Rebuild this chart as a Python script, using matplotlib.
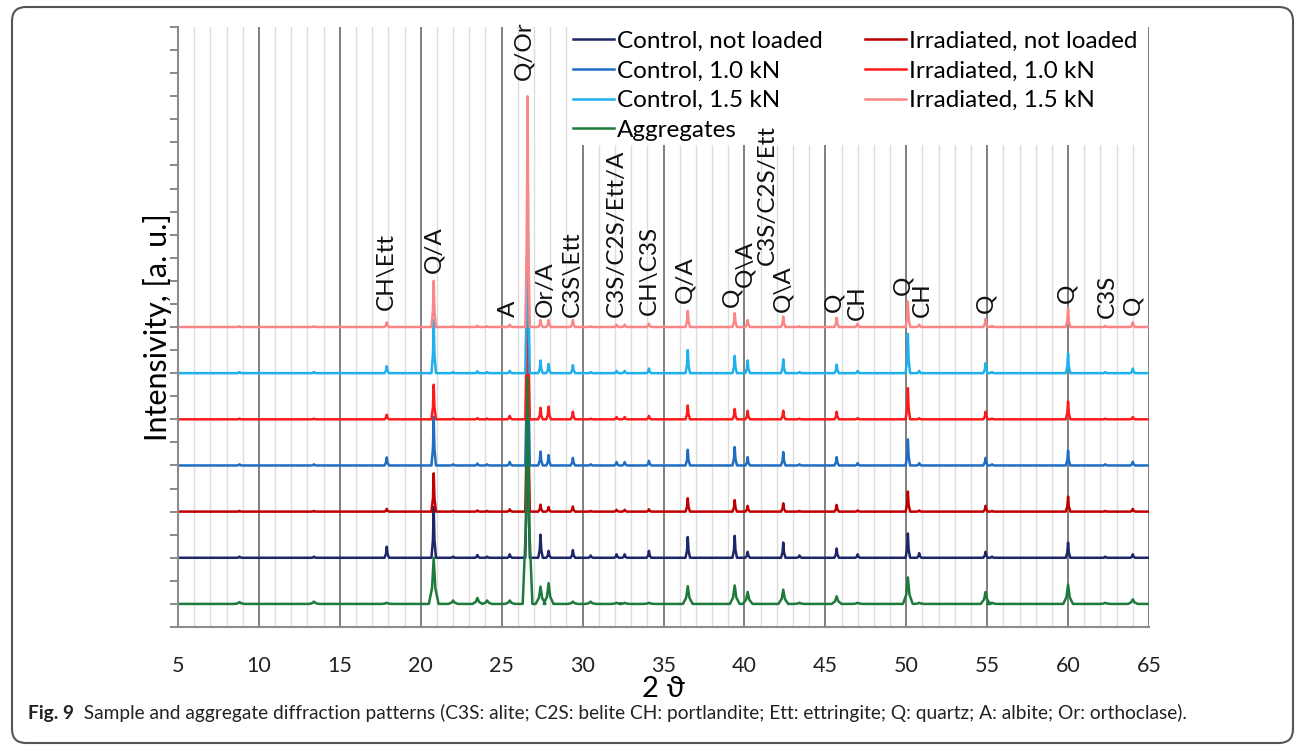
import numpy as np
import matplotlib.pyplot as plt
import matplotlib.transforms as mtransforms
from matplotlib.patches import FancyBboxPatch

plt.rcParams['font.family'] = ['Lato', 'DejaVu Sans']

# peak positions (2 theta) shared by all patterns
peak_pos = [8.8, 13.4, 17.9, 20.8, 22.0, 23.5, 24.1, 25.5, 26.6, 27.4, 27.9, 29.4, 30.5,
            32.1, 32.6, 34.1, 36.5, 39.4, 40.2, 42.4, 43.4, 45.7, 47.0, 50.1, 50.8,
            54.9, 55.3, 60.0, 62.3, 64.0]

# peak heights above each baseline (a. u.)
h_ctrl_nl = [0.05, 0.05, 0.48, 2.2, 0.05, 0.12, 0.05, 0.15, 10.0, 1.0, 0.3, 0.33, 0.1,
             0.15, 0.15, 0.3, 0.9, 0.95, 0.26, 0.66, 0.1, 0.4, 0.15, 1.05, 0.2,
             0.26, 0.05, 0.66, 0.05, 0.15]
h_ctrl_10 = [0.05, 0.05, 0.35, 2.1, 0.05, 0.08, 0.05, 0.15, 10.0, 0.6, 0.45, 0.33, 0.05,
             0.15, 0.15, 0.2, 0.68, 0.8, 0.36, 0.58, 0.05, 0.36, 0.1, 1.13, 0.1,
             0.33, 0.05, 0.65, 0.05, 0.16]
h_ctrl_15 = [0.05, 0.05, 0.3, 2.3, 0.05, 0.08, 0.05, 0.1, 10.0, 0.55, 0.4, 0.35, 0.05,
             0.1, 0.1, 0.2, 1.0, 0.75, 0.55, 0.6, 0.05, 0.37, 0.1, 1.7, 0.1,
             0.43, 0.05, 0.85, 0.05, 0.2]
h_irr_nl = [0.03, 0.03, 0.12, 1.66, 0.03, 0.05, 0.03, 0.1, 10.0, 0.3, 0.2, 0.22, 0.03,
            0.08, 0.08, 0.1, 0.58, 0.5, 0.25, 0.36, 0.03, 0.29, 0.05, 0.87, 0.05,
            0.25, 0.03, 0.65, 0.03, 0.12]
h_irr_10 = [0.03, 0.03, 0.2, 1.5, 0.03, 0.05, 0.03, 0.15, 10.0, 0.5, 0.55, 0.33, 0.03,
            0.1, 0.1, 0.15, 0.6, 0.45, 0.37, 0.37, 0.03, 0.33, 0.05, 1.35, 0.05,
            0.33, 0.03, 0.77, 0.03, 0.1]
h_irr_15 = [0.03, 0.03, 0.2, 2.0, 0.03, 0.05, 0.03, 0.1, 10.0, 0.3, 0.3, 0.3, 0.03,
            0.1, 0.1, 0.15, 0.7, 0.6, 0.3, 0.45, 0.03, 0.4, 0.15, 1.1, 0.1,
            0.35, 0.05, 0.8, 0.05, 0.2]
h_aggr = [0.08, 0.1, 0.05, 2.0, 0.15, 0.26, 0.15, 0.15, 9.8, 0.75, 0.9, 0.1, 0.1,
          0.05, 0.05, 0.05, 0.77, 0.8, 0.52, 0.62, 0.05, 0.33, 0.05, 1.15, 0.05,
          0.52, 0.05, 0.84, 0.05, 0.2]

labels = ['Control, not loaded', 'Control, 1.0 kN', 'Control, 1.5 kN', 'Aggregates',
          'Irradiated, not loaded', 'Irradiated, 1.0 kN', 'Irradiated, 1.5 kN']
heights = [h_ctrl_nl, h_ctrl_10, h_ctrl_15, h_aggr, h_irr_nl, h_irr_10, h_irr_15]
offsets = [3, 7, 11, 1, 5, 9, 13]
colors = ['#1b2768', '#1f6ec4', '#1fb0ee', '#1d7a3a', '#c00000', '#ff1a1a', '#fb8686']
widths = [0.14, 0.14, 0.14, 0.3, 0.14, 0.14, 0.14]
draw_order = [0, 4, 1, 5, 2, 6, 3]

# phase labels
ann_text = ['CH\\Ett', 'Q/A', 'A', 'Q/Or', 'Or/A', 'C3S\\Ett', 'C3S/C2S/Ett/A', 'CH\\C3S',
            'Q/A', 'Q', 'Q\\A', 'C3S/C2S/Ett', 'Q\\A', 'Q', 'CH', 'Q', 'CH', 'Q', 'Q',
            'C3S', 'Q']
ann_x = [17.9, 20.8, 25.4, 26.4, 27.7, 29.4, 32.1, 34.1, 36.3, 39.2, 40.0, 41.4, 42.4,
         45.5, 47.0, 49.8, 51.0, 54.9, 59.9, 62.4, 64.0]
ann_y = [13.73, 15.34, 13.43, 23.7, 13.43, 13.43, 13.43, 13.5, 14.04, 13.86, 14.73, 15.68,
         13.65, 13.65, 13.3, 14.38, 13.43, 13.6, 14.04, 13.39, 13.5]


def pattern(h, base, w):
    xs, ys = [5.0], [base]
    for p, hh in zip(peak_pos, h):
        xs += [p - w, p - w / 3, p, p + w / 3, p + w]
        ys += [base, base + hh * 0.35, base + hh, base + hh * 0.35, base]
    xs.append(65.0)
    ys.append(base)
    return xs, ys


fig = plt.figure(figsize=(12.96, 7.45), dpi=100)
ax = fig.add_axes([178 / 1296, 1 - 627 / 745, 971 / 1296, 600 / 745])

handles = {}
for i in draw_order:
    xs, ys = pattern(heights[i], offsets[i], widths[i])
    ln, = ax.plot(xs, ys, color=colors[i], lw=1.8, label=labels[i])
    handles[i] = ln

ax.set_xlim(5, 65)
ax.set_ylim(0, 26)
ax.set_xticks(np.arange(5, 66, 5))
ax.set_xticks(np.arange(5, 66, 1), minor=True)
ax.set_yticks(np.arange(0, 27, 1))
ax.set_yticklabels([])
ax.grid(which='major', axis='x', color='#7f7f7f', lw=1.4, zorder=0)
ax.grid(which='minor', axis='x', color='#dcdcdc', lw=1.0, zorder=0)
ax.set_axisbelow(True)
ax.tick_params(axis='x', which='both', length=0, pad=21, labelsize=15.5, labelcolor='#222222')
ax.tick_params(axis='y', length=6, width=1.3, color='#7f7f7f')
for s in ['top', 'right']:
    ax.spines[s].set_visible(False)
for s in ['left', 'bottom']:
    ax.spines[s].set_color('#8c8c8c')
    ax.spines[s].set_linewidth(1.5)

ax.set_xlabel('2 \u03d1', fontsize=21, labelpad=0)
ax.set_ylabel('Intensivity, [a. u.]', fontsize=22)
ax.yaxis.set_label_coords(-0.006, 0.5)

for t, x, y in zip(ann_text, ann_x, ann_y):
    ax.text(x, y, t, rotation=90, ha='center', va='bottom', fontsize=17.5, color='#111111',
            zorder=6)

leg = ax.legend([handles[i] for i in range(7)], labels, ncol=2, loc='upper left',
                bbox_to_anchor=(0.403, 1.0), borderaxespad=0, fontsize=17.5,
                handlelength=1.7, handletextpad=0.1, columnspacing=1.75,
                labelspacing=0.36, borderpad=0.15, frameon=True, fancybox=False)
leg.get_frame().set_facecolor('white')
leg.get_frame().set_edgecolor('none')
leg.get_frame().set_alpha(1)

# figure border and caption
frame = FancyBboxPatch((12, 2), 1281, 736, boxstyle='round,pad=0,rounding_size=14',
                       transform=mtransforms.IdentityTransform(), fill=False,
                       edgecolor='#555555', lw=1.5)
fig.patches.append(frame)
t1 = fig.text(28 / 1296, 1 - 719 / 745, 'Fig. 9', fontsize=13.8, fontweight='bold',
              color='#222222', va='baseline')
t2 = fig.text(0, 0, '  Sample and aggregate diffraction patterns (C3S: alite; C2S: belite CH: '
              'portlandite; Ett: ettringite; Q: quartz; A: albite; Or: orthoclase).',
              fontsize=13.8, color='#222222', va='baseline')

fig.canvas.draw()
bb = t1.get_window_extent()
t2.set_position((bb.x1 / 1296, 1 - 719 / 745))

fig.savefig('out.png', dpi=100)
